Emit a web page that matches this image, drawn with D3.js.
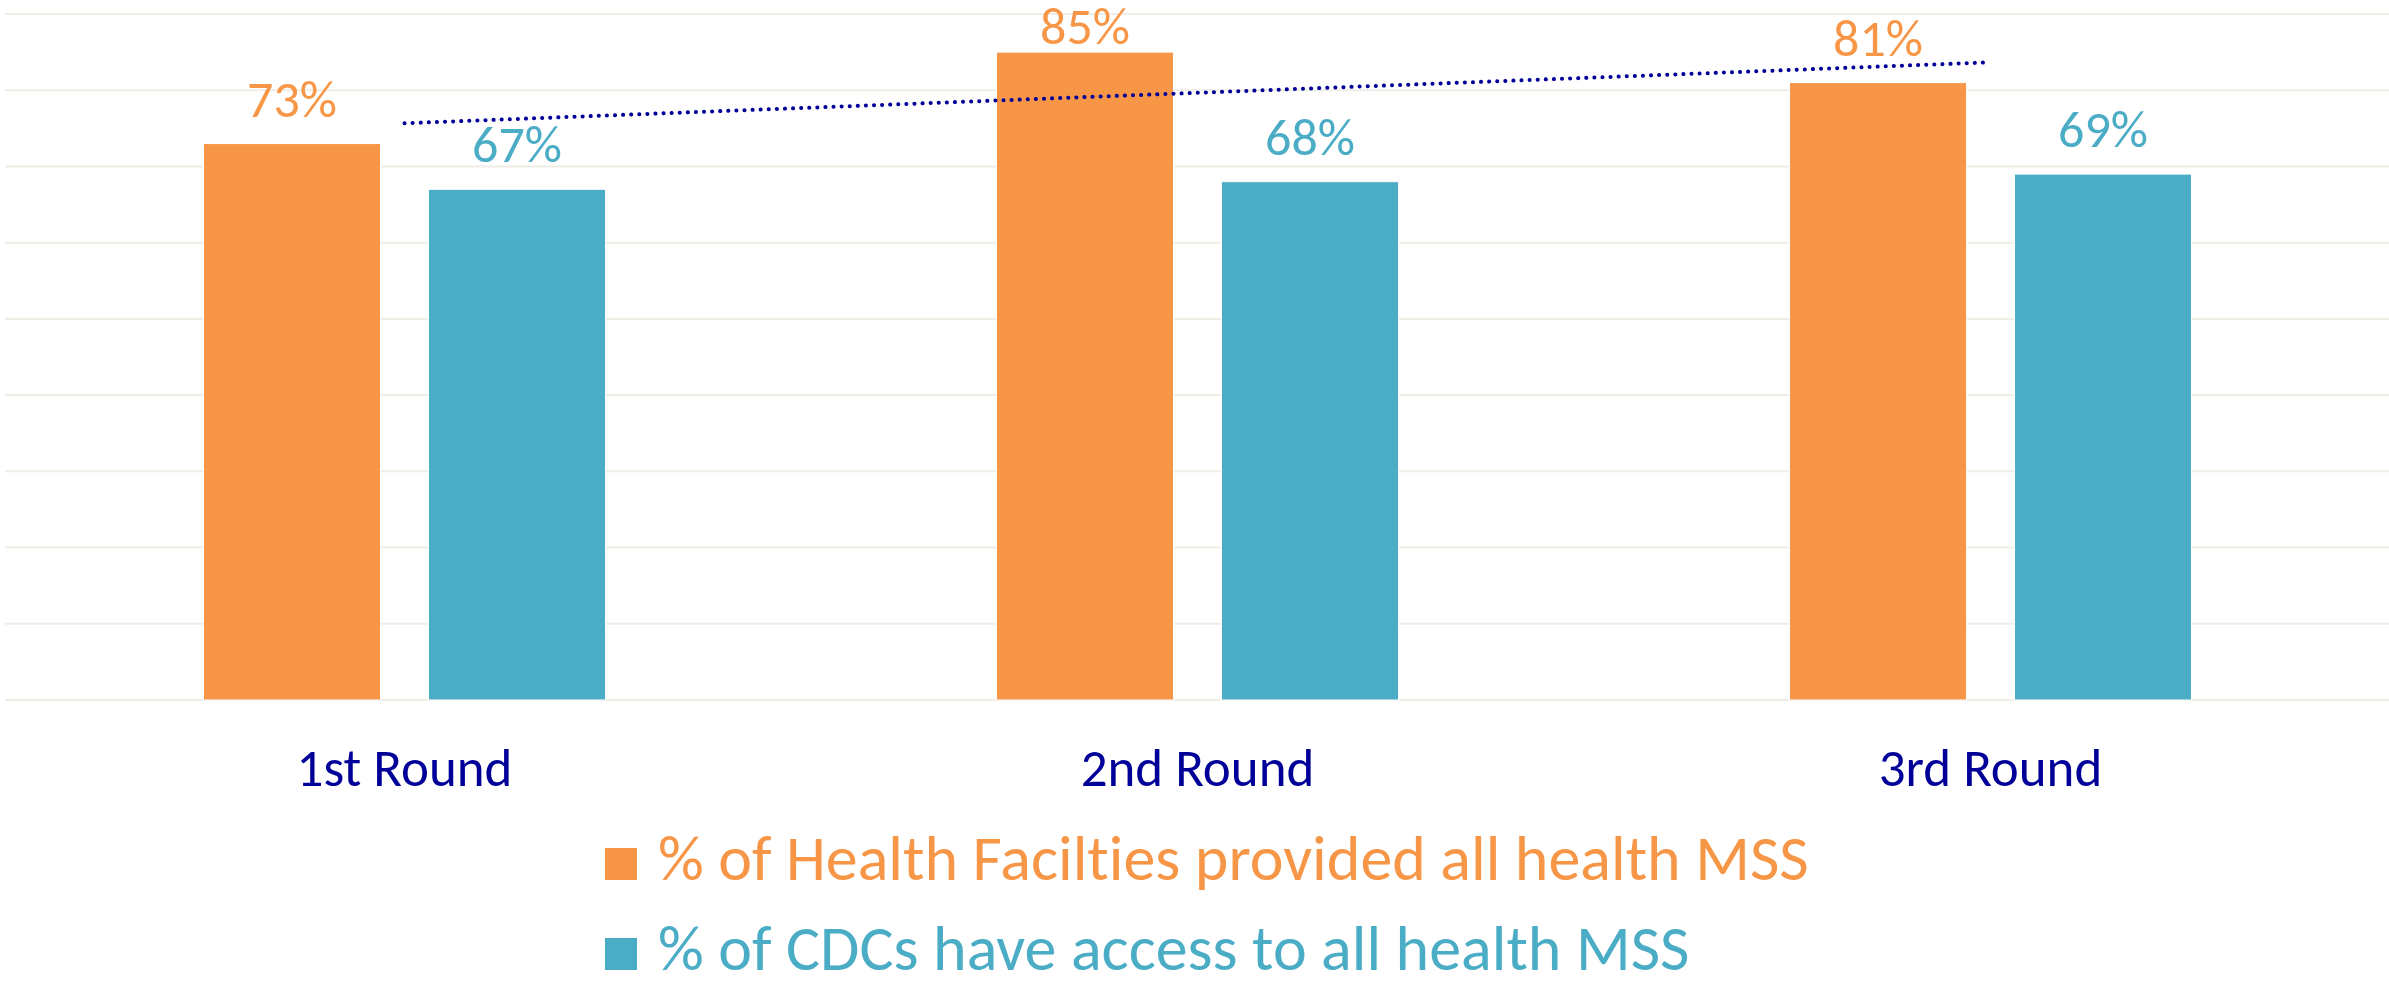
<!DOCTYPE html>
<html>
<head>
<meta charset="utf-8">
<script src="https://cdn.jsdelivr.net/npm/d3@7"></script>
<style>
  html, body { margin: 0; padding: 0; background: #fff; }
  svg text { font-family: Carlito, Lato, "Open Sans", sans-serif; font-variant-ligatures: none; }
</style>
</head>
<body>
<div id="chart"></div>
<script>
const width = 2389;
const height = 984;

const rounds = ["1st Round", "2nd Round", "3rd Round"];
const healthFacilities = [73, 85, 81];
const cdcAccess = [67, 68, 69];
const seriesNames = ["% of Health Facilties provided all health MSS", "% of CDCs have access to all health MSS"];
const seriesColors = ["#F79646", "#4BACC6"];
const yTicks = [0, 10, 20, 30, 40, 50, 60, 70, 80, 90];

const margin = { top: 14, right: 2, bottom: 284, left: 8 };

const svg = d3.select("#chart")
  .append("svg")
  .attr("width", width)
  .attr("height", height);

const x0 = d3.scaleBand()
  .domain(rounds)
  .range([margin.left, width - margin.right])
  .paddingInner(0.493)
  .paddingOuter(0.2465);

const x1 = d3.scaleBand()
  .domain([0, 1])
  .range([0, x0.bandwidth()])
  .paddingInner(0.213);

const y = d3.scaleLinear()
  .domain([0, 90])
  .range([height - margin.bottom, margin.top]);

// gridlines
svg.append("g")
  .selectAll("line")
  .data(yTicks)
  .enter()
  .append("line")
  .attr("x1", 5)
  .attr("x2", width)
  .attr("y1", d => y(d))
  .attr("y2", d => y(d))
  .attr("stroke", "#EFEDE6")
  .attr("stroke-width", 2);

const rows = rounds.map((r, i) => ({ round: r, values: [healthFacilities[i], cdcAccess[i]] }));

const groups = svg.selectAll(".group")
  .data(rows)
  .enter()
  .append("g")
  .attr("class", "group")
  .attr("transform", d => `translate(${x0(d.round)},0)`);

groups.selectAll("rect")
  .data(d => d.values.map((v, s) => ({ s, v })))
  .enter()
  .append("rect")
  .attr("x", d => x1(d.s))
  .attr("y", d => y(d.v))
  .attr("width", x1.bandwidth())
  .attr("height", d => y(0) - y(d.v))
  .attr("fill", d => seriesColors[d.s])
  .attr("stroke", "#fff")
  .attr("stroke-width", 1);

// value labels, kept inside the top of the chart like Excel does
groups.selectAll("text")
  .data(d => d.values.map((v, s) => ({ s, v })))
  .enter()
  .append("text")
  .attr("x", d => x1(d.s) + x1.bandwidth() / 2)
  .attr("y", d => Math.max(y(d.v) - 27, 44))
  .attr("text-anchor", "middle")
  .attr("font-size", 52)
  .attr("fill", d => seriesColors[d.s])
  .text(d => d.v + "%");

// linear trendline for the health facilities series
const xs = rounds.map((r, i) => i + 1);
const mx = d3.mean(xs);
const my = d3.mean(healthFacilities);
const slope = d3.sum(xs, (xv, i) => (xv - mx) * (healthFacilities[i] - my)) / d3.sum(xs, xv => (xv - mx) ** 2);
const intercept = my - slope * mx;

const trendX = d3.scaleLinear()
  .domain([1, rounds.length])
  .range([x0(rounds[0]) + x0.bandwidth() / 2, x0(rounds[rounds.length - 1]) + x0.bandwidth() / 2]);

svg.append("line")
  .attr("x1", trendX(1))
  .attr("x2", trendX(rounds.length))
  .attr("y1", y(intercept + slope))
  .attr("y2", y(intercept + slope * rounds.length))
  .attr("stroke", "#000099")
  .attr("stroke-width", 4)
  .attr("stroke-linecap", "round")
  .attr("stroke-dasharray", "0.1 8");

// category labels
svg.append("g")
  .selectAll("text")
  .data(rounds)
  .enter()
  .append("text")
  .attr("x", d => x0(d) + x0.bandwidth() / 2)
  .attr("y", 786)
  .attr("text-anchor", "middle")
  .attr("font-size", 53)
  .attr("fill", "#000099")
  .text(d => d);

// legend
const legend = svg.append("g")
  .selectAll("g")
  .data(seriesNames)
  .enter()
  .append("g")
  .attr("transform", (d, i) => `translate(605,${848 + i * 90})`);

legend.append("rect")
  .attr("width", 32)
  .attr("height", 32)
  .attr("fill", (d, i) => seriesColors[i]);

legend.append("text")
  .attr("x", 53)
  .attr("y", 32)
  .attr("font-size", 64)
  .attr("fill", (d, i) => seriesColors[i])
  .text(d => d);
</script>
</body>
</html>
